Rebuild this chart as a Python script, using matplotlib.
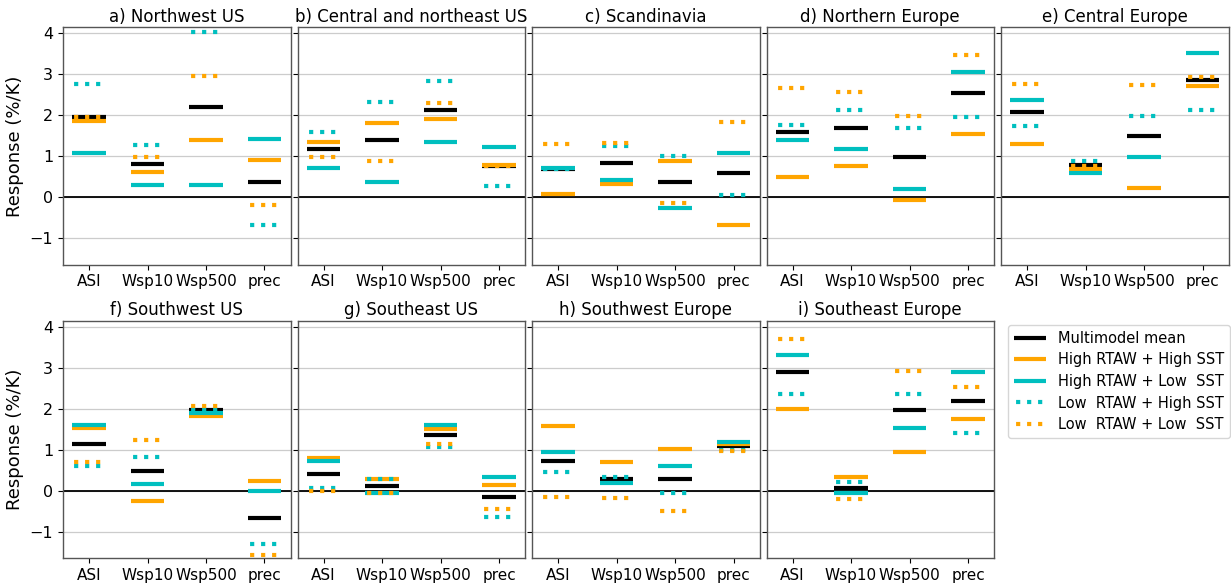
import numpy as np
import matplotlib
matplotlib.use("Agg")
import matplotlib.pyplot as plt
from matplotlib.lines import Line2D

# Response of each variable per region (%/K)
variables = ["ASI", "Wsp10", "Wsp500", "prec"]
regions = ["a) Northwest US", "b) Central and northeast US", "c) Scandinavia",
           "d) Northern Europe", "e) Central Europe", "f) Southwest US",
           "g) Southeast US", "h) Southwest Europe", "i) Southeast Europe"]

multimodel_mean = [
    [1.95, 0.81, 2.20, 0.38],
    [1.18, 1.39, 2.13, 0.77],
    [0.70, 0.84, 0.38, 0.58],
    [1.60, 1.69, 0.97, 2.54],
    [2.07, 0.78, 1.50, 2.86],
    [1.13, 0.48, 1.98, -0.66],
    [0.40, 0.11, 1.35, -0.155],
    [0.73, 0.28, 0.28, 1.09],
    [2.90, 0.065, 1.97, 2.19],
]
high_rtaw_high_sst = [
    [1.87, 0.62, 1.39, 0.92],
    [1.34, 1.82, 1.91, 0.78],
    [0.09, 0.32, 0.88, -0.68],
    [0.49, 0.75, -0.08, 1.54],
    [1.31, 0.69, 0.22, 2.72],
    [1.53, -0.26, 1.83, 0.245],
    [0.81, 0.29, 1.52, 0.14],
    [1.59, 0.70, 1.03, 1.13],
    [1.99, 0.34, 0.94, 1.75],
]
high_rtaw_low_sst = [
    [1.08, 0.31, 0.30, 1.43],
    [0.71, 0.38, 1.35, 1.22],
    [0.71, 0.41, -0.26, 1.09],
    [1.39, 1.18, 0.21, 3.06],
    [2.37, 0.59, 0.99, 3.51],
    [1.61, 0.155, 1.90, 0.0],
    [0.73, -0.05, 1.60, 0.33],
    [0.95, 0.20, 0.60, 1.19],
    [3.32, -0.05, 1.53, 2.90],
]
low_rtaw_high_sst = [
    [2.76, 1.27, 4.03, -0.68],
    [1.60, 2.33, 2.84, 0.28],
    [0.70, 1.24, 1.01, 0.06],
    [1.77, 2.13, 1.69, 1.95],
    [1.73, 0.88, 1.99, 2.13],
    [0.60, 0.83, 1.98, -1.31],
    [0.07, 0.29, 1.06, -0.63],
    [0.46, 0.33, -0.065, 0.99],
    [2.37, 0.21, 2.36, 1.40],
]
low_rtaw_low_sst = [
    [1.96, 0.97, 2.96, -0.18],
    [0.98, 0.89, 2.29, 0.77],
    [1.31, 1.32, -0.14, 1.83],
    [2.66, 2.56, 1.99, 3.48],
    [2.77, 0.75, 2.75, 2.93],
    [0.69, 1.23, 2.06, -1.56],
    [-0.01, -0.05, 1.14, -0.44],
    [-0.16, -0.18, -0.50, 0.97],
    [3.70, -0.19, 2.93, 2.54],
]

# dotted pattern: square dots, starting half a dot in from the line end
dotted = (2.14, (1.0, 1.64))

series = [
    (multimodel_mean, "black", "-", "Multimodel mean"),
    (high_rtaw_high_sst, "orange", "-", "High RTAW + High SST"),
    (high_rtaw_low_sst, "c", "-", "High RTAW + Low  SST"),
    (low_rtaw_high_sst, "c", dotted, "Low  RTAW + High SST"),
    (low_rtaw_low_sst, "orange", dotted, "Low  RTAW + Low  SST"),
]

plt.rcParams["font.family"] = "DejaVu Sans"
fig = plt.figure(figsize=(12.31, 5.84), dpi=100)
gs = fig.add_gridspec(2, 5, left=0.0512, right=0.998, top=0.9533, bottom=0.044,
                      wspace=0.0308, hspace=0.236)

xpos = np.arange(1, len(variables) + 1)
half = 0.285
lw = 3.0

for k, title in enumerate(regions):
    row, col = divmod(k, 5)
    ax = fig.add_subplot(gs[row, col])
    ax.set_axisbelow(True)
    ax.grid(axis="y", color="#cccccc", lw=0.9)
    ax.axhline(0, color="black", lw=1.3, zorder=1.5)
    for data, color, ls, label in series:
        vals = np.asarray(data[k], dtype=float)
        for x, v in zip(xpos, vals):
            ax.plot([x - half, x + half], [v, v], color=color, ls=ls,
                    lw=lw, zorder=2, solid_capstyle="butt")
    ax.set_xlim(0.555, 4.445)
    ax.set_ylim(-1.65, 4.15)
    ax.set_yticks([-1, 0, 1, 2, 3, 4])
    ax.set_xticks(xpos)
    ax.set_xticklabels(variables, fontsize=11)
    ax.tick_params(axis="y", labelsize=11.5)
    ax.set_title(title, fontsize=12, pad=4)
    for sp in ax.spines.values():
        sp.set_color("#555555")
        sp.set_linewidth(1.0)
    if col == 0:
        ax.set_ylabel("Response (%/K)", fontsize=13)
    else:
        ax.tick_params(axis="y", labelleft=False)

handles = [Line2D([0], [0], color=c, ls=ls, lw=lw, solid_capstyle="butt")
           for _, c, ls, _ in series]
labels = [lab for *_, lab in series]
fig.legend(handles, labels, loc="upper left", bbox_to_anchor=(1008 / 1231, 1 - 325 / 584),
           borderaxespad=0, fontsize=10.5, handlelength=2.2, labelspacing=0.45,
           frameon=True, edgecolor="#cccccc")

fig.savefig("out.png", dpi=100)
